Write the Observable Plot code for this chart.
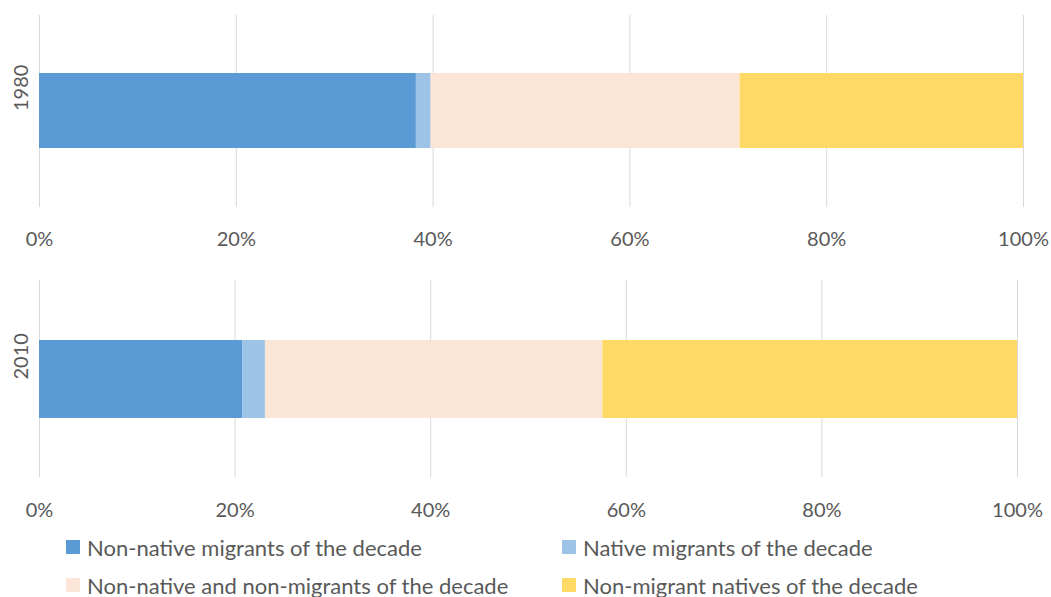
<!DOCTYPE html>
<html>
<head>
<meta charset="utf-8">
<script src="https://cdn.jsdelivr.net/npm/d3@7"></script>
<script src="https://cdn.jsdelivr.net/npm/@observablehq/plot@0.6"></script>
<style>
  body { margin: 0; background: #fff; font-family: Lato, sans-serif; }
  #chart svg { display: block; }
  #legend { display: grid; grid-template-columns: 496px auto; padding-left: 66px; row-gap: 14px; margin-top: 7px; color: #595959; font-size: 22px; }
  .item { display: flex; align-items: center; height: 24px; white-space: nowrap; }
  .sw { width: 14px; height: 14px; margin-right: 7px; display: inline-block; }
</style>
</head>
<body>
<div id="chart"></div>
<div id="legend"></div>
<script>
const categories = [
  "Non-native migrants of the decade",
  "Native migrants of the decade",
  "Non-native and non-migrants of the decade",
  "Non-migrant natives of the decade"
];
const colors = ["#5B9BD5", "#9DC3E6", "#FBE5D6", "#FFD966"];
const years = ["1980", "2010"];
const values1980 = [38.3, 1.5, 31.4, 28.8];
const values2010 = [20.8, 2.3, 34.5, 42.4];
const ticks = [0, 20, 40, 60, 80, 100];

const seriesByYear = {"1980": values1980, "2010": values2010};

function panel(year, opts) {
  const rows = categories.map((c, i) => ({year, category: c, value: seriesByYear[year][i]}));
  return Plot.plot({
    width: 1051,
    height: opts.height,
    marginLeft: 39,
    marginRight: opts.marginRight,
    marginTop: opts.marginTop,
    marginBottom: opts.marginBottom,
    style: {fontFamily: "Lato, sans-serif", fontSize: "20px", color: "#595959", background: "#fff"},
    x: {domain: [0, 100], ticks: ticks, tickFormat: d => d + "%", tickSize: 0, tickPadding: opts.tickPadding, label: null},
    y: {domain: [year], padding: 0.433, axis: null},
    color: {domain: categories, range: colors},
    marks: [
      Plot.gridX(ticks, {stroke: "#d9d9d9", strokeOpacity: 1, strokeWidth: 1}),
      Plot.barX(rows, {x: "value", y: "year", fill: "category"}),
      Plot.text([year], {y: d => d, text: d => d, frameAnchor: "left", dx: -18, rotate: -90, fill: "#595959", fontSize: 20})
    ]
  });
}

const chart = document.getElementById("chart");
chart.appendChild(panel("1980", {height: 260, marginTop: 15, marginBottom: 53, marginRight: 28, tickPadding: 24}));
chart.appendChild(panel("2010", {height: 268, marginTop: 20, marginBottom: 51, marginRight: 34, tickPadding: 25}));

const legend = document.getElementById("legend");
categories.forEach((c, i) => {
  const item = document.createElement("div");
  item.className = "item";
  const sw = document.createElement("span");
  sw.className = "sw";
  sw.style.background = colors[i];
  item.appendChild(sw);
  item.appendChild(document.createTextNode(c));
  legend.appendChild(item);
});
</script>
</body>
</html>
